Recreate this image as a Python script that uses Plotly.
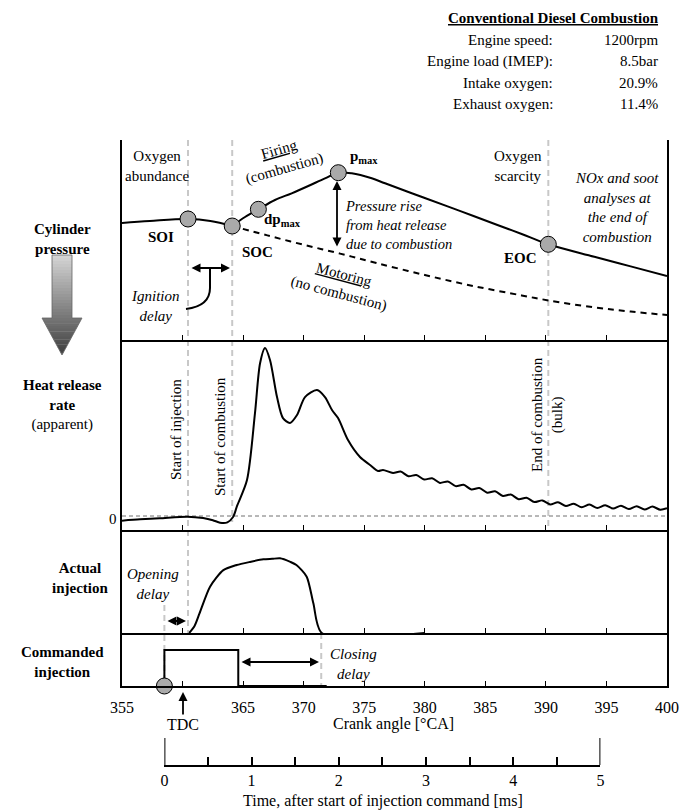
import plotly.graph_objects as go

# ---------------- data ----------------
# Cylinder pressure, arbitrary units, vs crank angle [°CA]
fire_pre_ca = [355.0, 357.3, 360.45, 362.3, 364.1]
fire_pre_p = [58.5, 59.5, 60.5, 59.5, 57.0]
fire_post_ca = [364.1, 365.16, 366.26, 367.63, 369.01, 370.38, 371.76, 372.86, 373.97,
                375.62, 376.72, 380.0, 383.0, 386.0, 388.0, 390.2, 394.0, 397.0, 400.0]
fire_post_p = [57.0, 61.5, 65.35, 70.0, 73.35, 77.0, 80.85, 83.65, 83.35,
               80.85, 78.35, 71.0, 64.3, 57.5, 53.0, 47.85, 41.6, 36.8, 32.0]
motor_ca = [364.1, 367.0, 370.0, 373.0, 376.0, 380.0, 384.0, 388.0, 390.2, 394.0, 397.0, 400.0]
motor_p = [57.0, 52.3, 47.6, 43.2, 38.5, 32.5, 27.0, 22.3, 19.8, 16.3, 14.2, 12.5]

# Event markers on the pressure trace: SOI, SOC, dp_max, p_max, EOC
event_names = ["SOI", "SOC", "dpmax", "pmax", "EOC"]
event_ca = [360.45, 364.1, 366.26, 372.86, 390.2]
event_p = [60.5, 57.0, 65.35, 83.65, 47.85]

# Apparent heat release rate (arbitrary units)
hrr_ca = [355.0, 356.5, 358.1, 360.4, 361.7, 362.5, 363.1, 363.7, 364.17, 364.5, 365.32,
          365.98, 366.4, 366.81, 367.22, 367.8, 368.29, 368.87, 369.45, 370.11, 371.1,
          371.76, 372.34, 372.84, 373.66, 374.65, 375.48, 376.14, 376.55, 377.38,
          378.0, 378.65, 379.3, 379.95, 380.6, 381.25, 381.9, 382.55, 383.2, 383.85,
          384.5, 385.15, 385.8, 386.45, 387.1, 387.75, 388.4, 389.05, 389.7, 390.35,
          391.0, 391.65, 392.3, 392.95, 393.6, 394.25, 394.9, 395.55, 396.2, 396.85,
          397.5, 398.15, 398.8, 399.45, 400.0]
hrr_val = [-2.8, -2.0, -1.4, -0.4, -1.2, -2.5, -4.0, -3.8, -0.6, 6.0, 21.4,
           61.3, 91.0, 100.0, 92.9, 70.8, 58.3, 55.4, 60.1, 70.8, 75.0,
           70.8, 63.1, 58.3, 45.2, 35.1, 30.4, 26.8, 27.4, 25.6,
           26.5, 23.7, 24.4, 21.7, 22.5, 19.7, 20.6, 17.8, 18.6, 15.8,
           16.7, 13.9, 14.7, 11.9, 12.8, 10.0, 10.9, 8.3, 9.3, 6.9,
           8.2, 5.9, 7.3, 5.2, 6.8, 4.8, 6.4, 4.4, 6.1, 4.1,
           5.8, 3.9, 5.6, 3.7, 4.6]

# Actual injection (arbitrary units)
inj_ca = [360.55, 361.0, 361.4, 362.27, 363.37, 364.47, 365.57, 366.67, 367.4, 368.05,
          368.9, 369.4, 370.25, 370.8, 371.5, 380.0]
inj_val = [0, 7, 19, 45, 61, 66, 69, 71.5, 72, 72.5, 69, 66, 54.7, 28.8, 0, 0]

# Commanded injection (logic signal)
cmd_ca = [358.5, 358.5, 364.6, 364.6, 371.9]
cmd_val = [0, 68, 68, 0, 0]

# Reference crank angles for the annotated delays
soi_ca, soc_ca, eoc_ca = 360.45, 364.1, 390.2
cmd_start_ca, cmd_end_ca, close_ca = 358.5, 364.6, 371.45

crank_ticks = [355, 360, 365, 370, 375, 380, 385, 390, 395, 400]
crank_labels = ["355", "", "365", "370", "375", "380", "385", "390", "395", "400"]
time_ticks = [0, 1, 2, 3, 4, 5]
deg_per_ms = 7.2  # 1200 rpm

# ---------------- helpers (pixel -> paper) ----------------
W, H = 681, 811
def px(x):
    return x / W
def py(y):
    return 1 - y / H

FONT = "Liberation Serif"
XD = [px(122), px(667)]
dom_p = [py(340), py(140)]
dom_h = [py(530), py(340)]
dom_a = [py(633), py(530)]
dom_c = [py(686), py(633)]

fig = go.Figure()

fig.add_trace(go.Scatter(x=fire_pre_ca, y=fire_pre_p, mode="lines", line=dict(color="black", width=2, shape="spline"),
                         xaxis="x", yaxis="y", hoverinfo="skip"))
fig.add_trace(go.Scatter(x=fire_post_ca, y=fire_post_p, mode="lines", line=dict(color="black", width=2, shape="spline"),
                         xaxis="x", yaxis="y", hoverinfo="skip"))
fig.add_trace(go.Scatter(x=motor_ca, y=motor_p, mode="lines",
                         line=dict(color="black", width=2, dash="6px,5px", shape="spline"),
                         xaxis="x", yaxis="y", hoverinfo="skip"))
fig.add_trace(go.Scatter(x=event_ca, y=event_p, mode="markers", text=event_names,
                         marker=dict(size=16, color="#a9a9a9", line=dict(color="black", width=1)),
                         xaxis="x", yaxis="y", cliponaxis=False))
fig.add_trace(go.Scatter(x=hrr_ca, y=hrr_val, mode="lines",
                         line=dict(color="black", width=2, shape="spline", smoothing=0.8),
                         xaxis="x2", yaxis="y2", hoverinfo="skip"))
fig.add_trace(go.Scatter(x=inj_ca, y=inj_val, mode="lines",
                         line=dict(color="black", width=2, shape="spline", smoothing=0.7),
                         xaxis="x3", yaxis="y3", hoverinfo="skip", cliponaxis=True))
fig.add_trace(go.Scatter(x=cmd_ca, y=cmd_val, mode="lines", line=dict(color="black", width=2),
                         xaxis="x4", yaxis="y4", hoverinfo="skip", cliponaxis=False))
fig.add_trace(go.Scatter(x=[cmd_start_ca], y=[0], mode="markers",
                         marker=dict(size=16, color="#a9a9a9", line=dict(color="black", width=1)),
                         xaxis="x4", yaxis="y4", cliponaxis=False))
# invisible trace for the time axis
fig.add_trace(go.Scatter(x=[0, 5], y=[0, 0], mode="markers", marker=dict(opacity=0),
                         xaxis="x5", yaxis="y5", hoverinfo="skip"))

xcommon = dict(range=[355, 400], domain=XD, showgrid=False, zeroline=False, showline=True,
               linecolor="black", linewidth=1.5, ticks="inside", ticklen=5, tickwidth=1,
               tickcolor="black", tickvals=crank_ticks[1:-1], showticklabels=False)
ycommon = dict(showgrid=False, zeroline=False, showline=True, mirror=True, linecolor="black",
               linewidth=2, ticks="", showticklabels=False)

fig.update_layout(
    width=W, height=H, margin=dict(l=0, r=0, t=0, b=0, autoexpand=False),
    paper_bgcolor="white", plot_bgcolor="white", showlegend=False,
    font=dict(family=FONT, size=15, color="black"),
    xaxis=dict(xcommon, anchor="y"),
    xaxis2=dict(xcommon, anchor="y2"),
    xaxis3=dict(xcommon, anchor="y3"),
    xaxis4=dict(xcommon, anchor="y4", tickvals=crank_ticks, ticktext=crank_labels,
                showticklabels=True, tickfont=dict(family=FONT, size=16), ticklabelstandoff=6),
    yaxis=dict(ycommon, domain=dom_p, range=[0, 100], anchor="x"),
    yaxis2=dict(ycommon, domain=dom_h, range=[-8.33, 104.8], anchor="x2"),
    yaxis3=dict(ycommon, domain=dom_a, range=[0, 100], anchor="x3"),
    yaxis4=dict(ycommon, domain=dom_c, range=[0, 100], anchor="x4"),
    xaxis5=dict(range=[0, 5], domain=[px(122 + (cmd_start_ca - 355) * 545 / 45),
                                      px(122 + (cmd_start_ca + 5 * deg_per_ms - 355) * 545 / 45)],
                anchor="y5", showgrid=False, zeroline=False, showline=True, linecolor="black",
                linewidth=2, ticks="inside", ticklen=8, tickwidth=1.5, tickcolor="black",
                tickvals=time_ticks, tickfont=dict(family=FONT, size=16), ticklabelstandoff=0,
                minor=dict(ticks="inside", dtick=0.5, ticklen=8, tickwidth=1.5, tickcolor="black")),
    yaxis5=dict(domain=[py(765), py(755)], range=[0, 1], visible=False, anchor="x5"),
)

shapes = []
dash_grey = dict(color="#c8c8c8", width=2, dash="6px,4px")
# vertical dashed markers
for xv, y0, y1 in [(soi_ca, 140, 633), (soc_ca, 140, 522), (eoc_ca, 140, 527),
                   (cmd_start_ca, 605, 686), (close_ca, 633, 686)]:
    shapes.append(dict(type="line", xref="x", yref="paper", x0=xv, x1=xv, y0=py(y0), y1=py(y1),
                       line=dash_grey, layer="below"))
# zero line of heat release
shapes.append(dict(type="line", xref="x2", yref="y2", x0=355, x1=400, y0=0, y1=0,
                   line=dict(color="#707070", width=1, dash="4px,3px"), layer="below"))
# tall end ticks on time axis
for t in [0, 5]:
    shapes.append(dict(type="line", xref="x5", yref="paper", x0=t, x1=t, y0=py(765), y1=py(738),
                       line=dict(color="black", width=2)))
# ignition delay connector
shapes.append(dict(type="path", xref="paper", yref="paper",
                   path=f"M {px(210)},{py(269)} L {px(210)},{py(288)} Q {px(210)},{py(306)} {px(186)},{py(309)}",
                   line=dict(color="black", width=2)))
# gradient arrow (left)
top, shaft_end, tip = 255, 318, 355
cx, hw_shaft, hw_head = 62, 10, 20
def grey(ym):
    g = int(round(214 - (ym - top) / (tip - top) * (214 - 62)))
    return f"rgb({g},{g},{g})"
n_s = 21
for i in range(n_s):
    ya = top + (shaft_end - top) * i / n_s
    yb = top + (shaft_end - top) * (i + 1) / n_s + 0.4
    shapes.append(dict(type="rect", xref="paper", yref="paper", x0=px(cx - hw_shaft), x1=px(cx + hw_shaft),
                       y0=py(yb), y1=py(ya), fillcolor=grey((ya + yb) / 2), line=dict(width=0)))
n_h = 14
for i in range(n_h):
    ya = shaft_end + (tip - shaft_end) * i / n_h
    yb = min(tip, shaft_end + (tip - shaft_end) * (i + 1) / n_h + 0.4)
    wa = hw_head * (tip - ya) / (tip - shaft_end)
    wb = hw_head * (tip - yb) / (tip - shaft_end)
    shapes.append(dict(type="path", xref="paper", yref="paper",
                       path=f"M {px(cx - wa)},{py(ya)} L {px(cx + wa)},{py(ya)} L {px(cx + wb)},{py(yb)} L {px(cx - wb)},{py(yb)} Z",
                       fillcolor=grey((ya + yb) / 2), line=dict(width=0)))
shapes.append(dict(type="path", xref="paper", yref="paper",
                   path=(f"M {px(cx - hw_shaft)},{py(top)} L {px(cx + hw_shaft)},{py(top)} "
                         f"L {px(cx + hw_shaft)},{py(shaft_end)} L {px(cx + hw_head)},{py(shaft_end)} "
                         f"L {px(cx)},{py(tip)} L {px(cx - hw_head)},{py(shaft_end)} "
                         f"L {px(cx - hw_shaft)},{py(shaft_end)} Z"),
                   line=dict(color="#666666", width=0.8)))
fig.update_layout(shapes=shapes)

ann = []
def txt(text, x, y, size=15, xanchor="center", align="center", angle=0):
    ann.append(dict(text=text, x=px(x), y=py(y), xref="paper", yref="paper", showarrow=False,
                    xanchor=xanchor, yanchor="middle", align=align, textangle=angle,
                    font=dict(family=FONT, size=size, color="black")))

def arrow(xh, yh, xt, yt, both=True):
    ann.append(dict(text="", x=px(xh), y=py(yh), xref="paper", yref="paper", showarrow=True,
                    ax=xt - xh, ay=yt - yh, arrowhead=2, arrowsize=1, arrowwidth=1.8,
                    arrowcolor="black", arrowside="end+start" if both else "end"))

# header block
txt("<b><u>Conventional Diesel Combustion</u></b>", 661, 18, size=15, xanchor="right")
hdr_lbl = ["Engine speed:", "Engine load (IMEP):", "Intake oxygen:", "Exhaust oxygen:"]
hdr_val = ["1200rpm", "8.5bar", "20.9%", "11.4%"]
for i, (l, v) in enumerate(zip(hdr_lbl, hdr_val)):
    yy = 40 + i * 21.5
    txt(l, 555, yy, xanchor="right")
    txt(v, 660, yy, xanchor="right")

# left labels
txt("<b>Cylinder<br>pressure</b>", 62, 239)
txt("<b>Heat release<br>rate</b><br>(apparent)", 62, 405)
txt("<b>Actual<br>injection</b>", 80, 578)
txt("<b>Commanded<br>injection</b>", 62, 662)
txt("0", 113, 519)

# pressure panel
txt("Oxygen<br>abundance", 157, 166)
txt("<u>Firing</u><br>(combustion)", 282, 160, angle=-16)
txt("<b>p<sub>max</sub></b>", 348, 157, xanchor="left")
txt("<b>dp<sub>max</sub></b>", 262, 220, xanchor="left")
txt("<b>SOI</b>", 161, 237)
txt("<b>SOC</b>", 257, 252)
txt("<i>Ignition<br>delay</i>", 155, 306)
txt("<u>Motoring</u><br>(no combustion)", 341, 284, angle=15)
txt("<i>Pressure rise<br>from heat release<br>due to combustion</i>", 343, 225, size=14.5,
    xanchor="left", align="left")
txt("Oxygen<br>scarcity", 518, 166)
txt("<i>NOx and soot<br>analyses at<br>the end of<br>combustion</i>", 617, 207, size=15)
txt("<b>EOC</b>", 520, 258)

# heat release panel
txt("Start of injection", 176, 430, angle=-90)
txt("Start of combustion", 220, 437, angle=-90)
txt("End of combustion<br>(bulk)", 547, 415, angle=-90)

# injection panels
txt("<i>Opening<br>delay</i>", 153, 584)
txt("<i>Closing<br>delay</i>", 353, 664)

# axes texts
txt("TDC", 183, 724, size=16)
txt("Crank angle [°CA]", 393, 724, size=16)
txt("Time, after start of injection command [ms]", 383, 801, size=16)

# arrows
arrow(230, 268, 190, 268)
arrow(337, 181, 337, 248)
arrow(186, 621, 166, 621)
arrow(319, 662, 240, 662)
arrow(183, 692, 183, 716, both=False)

fig.update_layout(annotations=ann)
fig.write_html("out.html")
